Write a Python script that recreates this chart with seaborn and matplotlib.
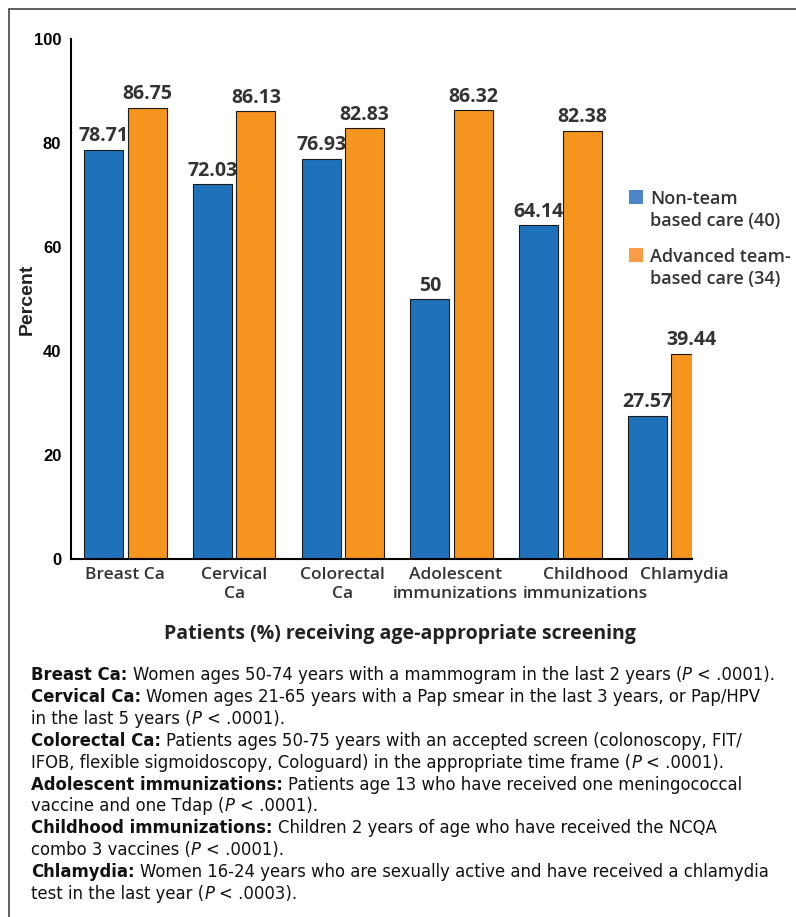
import re
import pandas as pd
import matplotlib.pyplot as plt
import seaborn as sns
from matplotlib.patches import Rectangle
from matplotlib.transforms import IdentityTransform, ScaledTranslation

# chart data
categories = ["Breast Ca", "Cervical\nCa", "Colorectal\nCa",
              "Adolescent\nimmunizations", "Childhood\nimmunizations", "Chlamydia"]
non_team = [78.71, 72.03, 76.93, 50, 64.14, 27.57]
advanced_team = [86.75, 86.13, 82.83, 86.32, 82.38, 39.44]
groups = ["Non-team\nbased care (40)", "Advanced team-\nbased care (34)"]
bar_colors = ["#1f72b9", "#f5941e"]
legend_colors = ["#4a86c8", "#f89c45"]
y_ticks = [0, 20, 40, 60, 80, 100]
# small horizontal nudges (px) of the category labels, as in the original
label_shift = [0, 0, 0, 4, 25, 15]

footnotes = [
    "**Breast Ca:** Women ages 50-74 years with a mammogram in the last 2 years (*P* < .0001).",
    "**Cervical Ca:** Women ages 21-65 years with a Pap smear in the last 3 years, or Pap/HPV",
    "in the last 5 years (*P* < .0001).",
    "**Colorectal Ca:** Patients ages 50-75 years with an accepted screen (colonoscopy, FIT/",
    "IFOB, flexible sigmoidoscopy, Cologuard) in the appropriate time frame (*P* < .0001).",
    "**Adolescent immunizations:** Patients age 13 who have received one meningococcal",
    "vaccine and one Tdap (*P* < .0001).",
    "**Childhood immunizations:** Children 2 years of age who have received the NCQA",
    "combo 3 vaccines (*P* < .0001).",
    "**Chlamydia:** Women 16-24 years who are sexually active and have received a chlamydia",
    "test in the last year (*P* < .0003).",
]

df = pd.DataFrame({
    "category": categories * 2,
    "percent": non_team + advanced_team,
    "group": [groups[0]] * len(categories) + [groups[1]] * len(categories),
})

sns.set_style("white")
plt.rcParams["font.family"] = ["Open Sans", "DejaVu Sans"]
HELV = ["Liberation Sans", "DejaVu Sans"]

W, H = 796, 917
fig = plt.figure(figsize=(W / 100, H / 100), dpi=100)
ax = fig.add_axes([71 / W, 1 - 559 / H, (692 - 71) / W, (559 - 39) / H])

sns.barplot(data=df, x="category", y="percent", hue="group", order=categories,
            hue_order=groups, palette=bar_colors, width=0.8, gap=0.1,
            edgecolor="#1a1a1a", linewidth=0.8, saturation=1, ax=ax)

# value labels above bars
for cont in ax.containers:
    for t in ax.bar_label(cont, fmt="{:g}", padding=2.5, fontsize=14,
                          fontweight="bold", color="#333333"):
        t.set_annotation_clip(False)

ax.set_xlim(-0.5, 5.21)
ax.set_ylim(0, 100)
ax.set_yticks(y_ticks)
ax.set_xlabel("")
ax.set_ylabel("")
ax.spines[["top", "right"]].set_visible(False)
for s in ["left", "bottom"]:
    ax.spines[s].set_linewidth(1.5)
    ax.spines[s].set_color("black")

ax.tick_params(axis="y", direction="in", length=11.5, width=1.5, pad=7,
               labelsize=12, labelcolor="black")
for lab in ax.get_yticklabels():
    lab.set_fontfamily(HELV)
    lab.set_fontweight("bold")

ax.set_xticks([i + 0.5 for i in range(len(categories) - 1)], minor=True)
ax.tick_params(axis="x", which="major", length=0, pad=6, labelsize=12.5,
               labelcolor="#333333")
ax.tick_params(axis="x", which="minor", direction="in", length=9.5, width=1.5)
for lab, dx in zip(ax.get_xticklabels(), label_shift):
    lab.set_fontweight("semibold")
    lab.set_transform(lab.get_transform() + ScaledTranslation(dx / 100, 0, fig.dpi_scale_trans))

# legend
sns.move_legend(ax, "upper left", bbox_to_anchor=((629 - 71) / 621, (559 - 190) / 520),
                frameon=False, title=None, fontsize=13, borderpad=0, borderaxespad=0,
                handlelength=0.78, handleheight=0.78, handletextpad=0.4,
                labelspacing=1.0)
leg = ax.get_legend()
for h, c in zip(leg.legend_handles, legend_colors):
    h.set_facecolor(c)
    h.set_edgecolor("none")
for t in leg.get_texts():
    t.set_color("#333333")
    t.set_fontweight("semibold")
    t.set_linespacing(1.3)
for col in leg._legend_handle_box.get_children():
    for item in col.get_children():
        item.align = "top"

fig.text(27 / W, 1 - 299 / H, "Percent", rotation=90, ha="center", va="center",
         fontsize=14, fontweight="bold", color="#222222", family=HELV)
fig.text(399.5 / W, 1 - 639 / H, "Patients (%) receiving age-appropriate screening",
         ha="center", va="baseline", fontsize=14, fontweight="bold", color="#222222")

# footnotes with bold / italic runs
renderer = fig.canvas.get_renderer()
FN_FONT = ["DejaVu Sans"]


def draw_footnotes(size):
    drawn, first_end = [], None
    probe = [fig.text(0, 0, s, fontsize=size, family=FN_FONT) for s in ("a a", "aa")]
    space_w = (probe[0].get_window_extent(renderer).width
               - probe[1].get_window_extent(renderer).width)
    for p in probe:
        p.remove()
    for k, line in enumerate(footnotes):
        x = 31
        y = H - (680 + 21.9 * k)
        for part in re.split(r"(\*\*.+?\*\*|\*.+?\*)", line):
            if not part:
                continue
            if part.startswith("**"):
                txt, kw = part[2:-2], {"fontweight": "bold"}
            elif part.startswith("*"):
                txt, kw = part[1:-1], {"fontstyle": "italic"}
            else:
                txt, kw = part, {}
            x += (len(txt) - len(txt.lstrip(" "))) * space_w
            t = fig.text(x, y, txt.strip(" "), transform=IdentityTransform(),
                         fontsize=size, family=FN_FONT, va="baseline",
                         color="#111111", **kw)
            drawn.append(t)
            x += t.get_window_extent(renderer).width
            x += (len(txt) - len(txt.rstrip(" "))) * space_w
        if first_end is None:
            first_end = x
    return drawn, first_end


texts, end = draw_footnotes(11)
for t in texts:
    t.remove()
draw_footnotes(11 * (778 - 31) / (end - 31))

# outer frame
fig.add_artist(Rectangle((9 / W, -0.05), 1.1, 1 - 9 / H + 0.05, transform=fig.transFigure,
                         fill=False, edgecolor="#444444", linewidth=1.2))

fig.savefig("out.png", dpi=100)
